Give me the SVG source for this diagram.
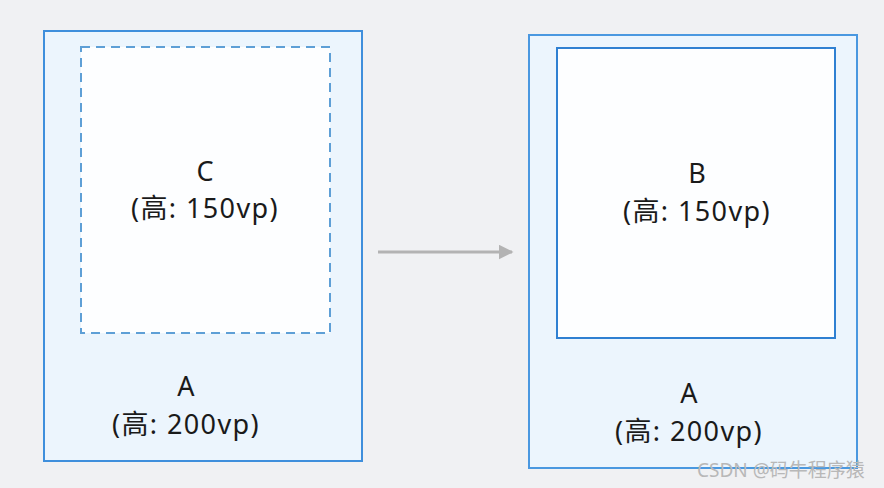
<svg xmlns="http://www.w3.org/2000/svg" width="884" height="488" viewBox="0 0 884 488">
  <defs>
    <style>
      .box { fill: #ecf5fd; stroke: #3f8fdc; stroke-width: 2; }
      .inner { fill: #fdfeff; stroke: #2f80d2; stroke-width: 2; }
      .dashed { fill: #fdfeff; stroke: #5e9fd6; stroke-width: 2; stroke-dasharray: 9 6; }
      .lbl { font-family: "Noto Sans", "Noto Sans CJK SC", sans-serif; font-size: 27px; fill: #1a1a1a; text-anchor: middle; }
      .sub { letter-spacing: 1.4px; }
      .wm { font-family: "Noto Sans", "Noto Sans CJK SC", sans-serif; font-size: 19px; fill: #b8b8b8; }
    </style>
    <marker id="arrow" viewBox="0 0 10 10" refX="9" refY="5" markerWidth="5" markerHeight="5" orient="auto" markerUnits="strokeWidth">
      <path d="M0,0 L10,5 L0,10 z" fill="#b3b3b3"/>
    </marker>
  </defs>
  <rect x="0" y="0" width="884" height="488" fill="#f0f1f3"/>

  <g id="nodeA-left">
    <rect class="box" x="44" y="31" width="318" height="430"/>
    <text class="lbl" x="186" y="396">A</text>
    <text class="lbl sub" x="186" y="434">(高: 200vp)</text>
  </g>
  <g id="nodeC">
    <rect class="dashed" x="81" y="47" width="249" height="286"/>
    <text class="lbl" x="205" y="181">C</text>
    <text class="lbl sub" x="205" y="218">(高: 150vp)</text>
  </g>

  <g id="nodeA-right">
    <rect class="box" x="529" y="35" width="328" height="433" style="stroke:#4a98e0"/>
    <text class="lbl" x="689" y="403">A</text>
    <text class="lbl sub" x="689" y="441">(高: 200vp)</text>
  </g>
  <g id="nodeB">
    <rect class="inner" x="557" y="48" width="278" height="290"/>
    <text class="lbl" x="697" y="183">B</text>
    <text class="lbl sub" x="697" y="221">(高: 150vp)</text>
  </g>

  <g id="connectors">
    <line x1="378" y1="252" x2="512" y2="252" stroke="#b3b3b3" stroke-width="3" marker-end="url(#arrow)"/>
  </g>

  <text class="wm" x="697" y="477">CSDN @码牛程序猿</text>
</svg>
